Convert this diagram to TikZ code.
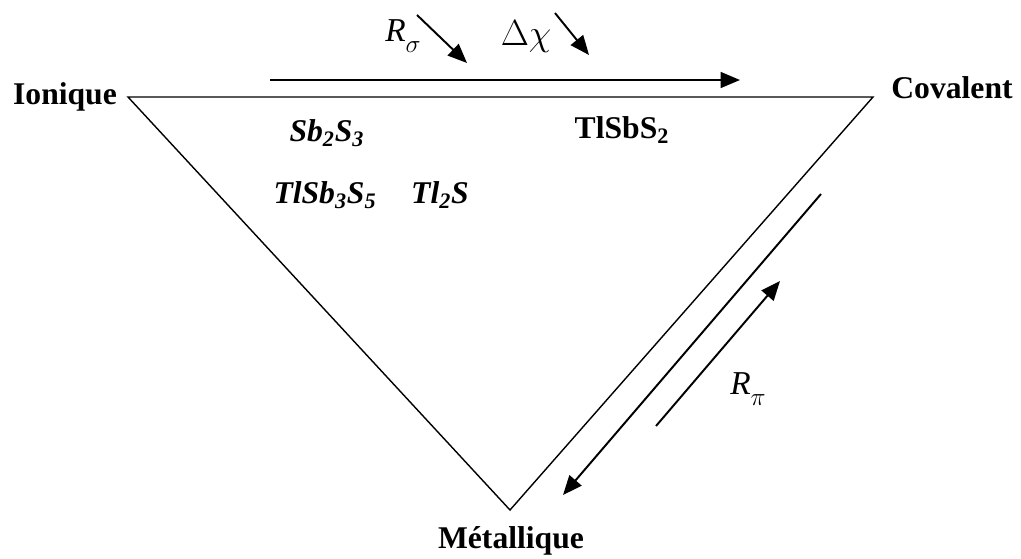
\documentclass[tikz,border=0pt]{standalone}
\usepackage{fontspec}
\setmainfont{Liberation Serif}
\usetikzlibrary{arrows.meta,positioning}

\begin{document}
\begin{tikzpicture}[
    x=0.02cm, y=-0.02cm,
    corner/.style={
        font=\fontsize{18}{20}\selectfont\bfseries,
        inner sep=0pt
    },
    compound/.style={
        font=\fontsize{18}{20}\selectfont\bfseries\itshape,
        inner sep=0pt
    },
    factor/.style={
        font=\fontsize{19}{22}\selectfont,
        inner sep=0pt
    },
    edge/.style={
        line width=0.8pt
    },
    trend/.style={
        line width=1.1pt,
        -{Triangle[length=11pt,width=9pt]}
    }
]
\useasboundingbox (0,0) rectangle (1021,558);

% Vertices of the triangle
\coordinate (ion) at (128,97);
\coordinate (cov) at (873,97);
\coordinate (met) at (510,510);

% Triangle
\draw[edge] (ion) -- (cov) -- (met) -- cycle;

% Corner labels
\node[corner] (ionique) at (65,97) {Ionique};
\node[corner] (covalent) at (952,88) {Covalent};
\node[corner] (metal) at (511,541) {Métallique};

% Compounds
\node[compound] (sbs) at (327,133) {Sb\textsubscript{2}S\textsubscript{3}};
\node[font=\fontsize{18}{20}\selectfont\bfseries, inner sep=0pt] (tlsbs) at (622,130) {TlSbS\textsubscript{2}};
\node[compound] (tlsbsfive) at (325,195) {TlSb\textsubscript{3}S\textsubscript{5}};
\node[compound] (tls) at (440,195) {Tl\textsubscript{2}S};

% Factors along the top edge
\coordinate (h0) at (270,80);
\coordinate (h1) at (740,80);
\draw[trend] (h0) -- (h1);
\node[factor] (rsigma) at (403,36) {\textit{R}\raisebox{-0.7ex}{$\scriptstyle\sigma$}};
\coordinate (s0) at (417,15);
\coordinate (s1) at (467,63);
\draw[trend] (s0) -- (s1);
\node[factor, font=\fontsize{21}{24}\selectfont] (dchi) at (526,37) {$\Delta\chi$};
\coordinate (c0) at (555,13);
\coordinate (c1) at (589,55);
\draw[trend] (c0) -- (c1);

% Factors along the right edge
\coordinate (d0) at (821,194);
\coordinate (d1) at (563,495);
\draw[trend] (d0) -- (d1);
\coordinate (u0) at (656,426);
\coordinate (u1) at (780,281);
\draw[trend] (u0) -- (u1);
\node[factor] (rpi) at (748,389) {\textit{R}\raisebox{-0.7ex}{$\scriptstyle\pi$}};

\end{tikzpicture}
\end{document}
